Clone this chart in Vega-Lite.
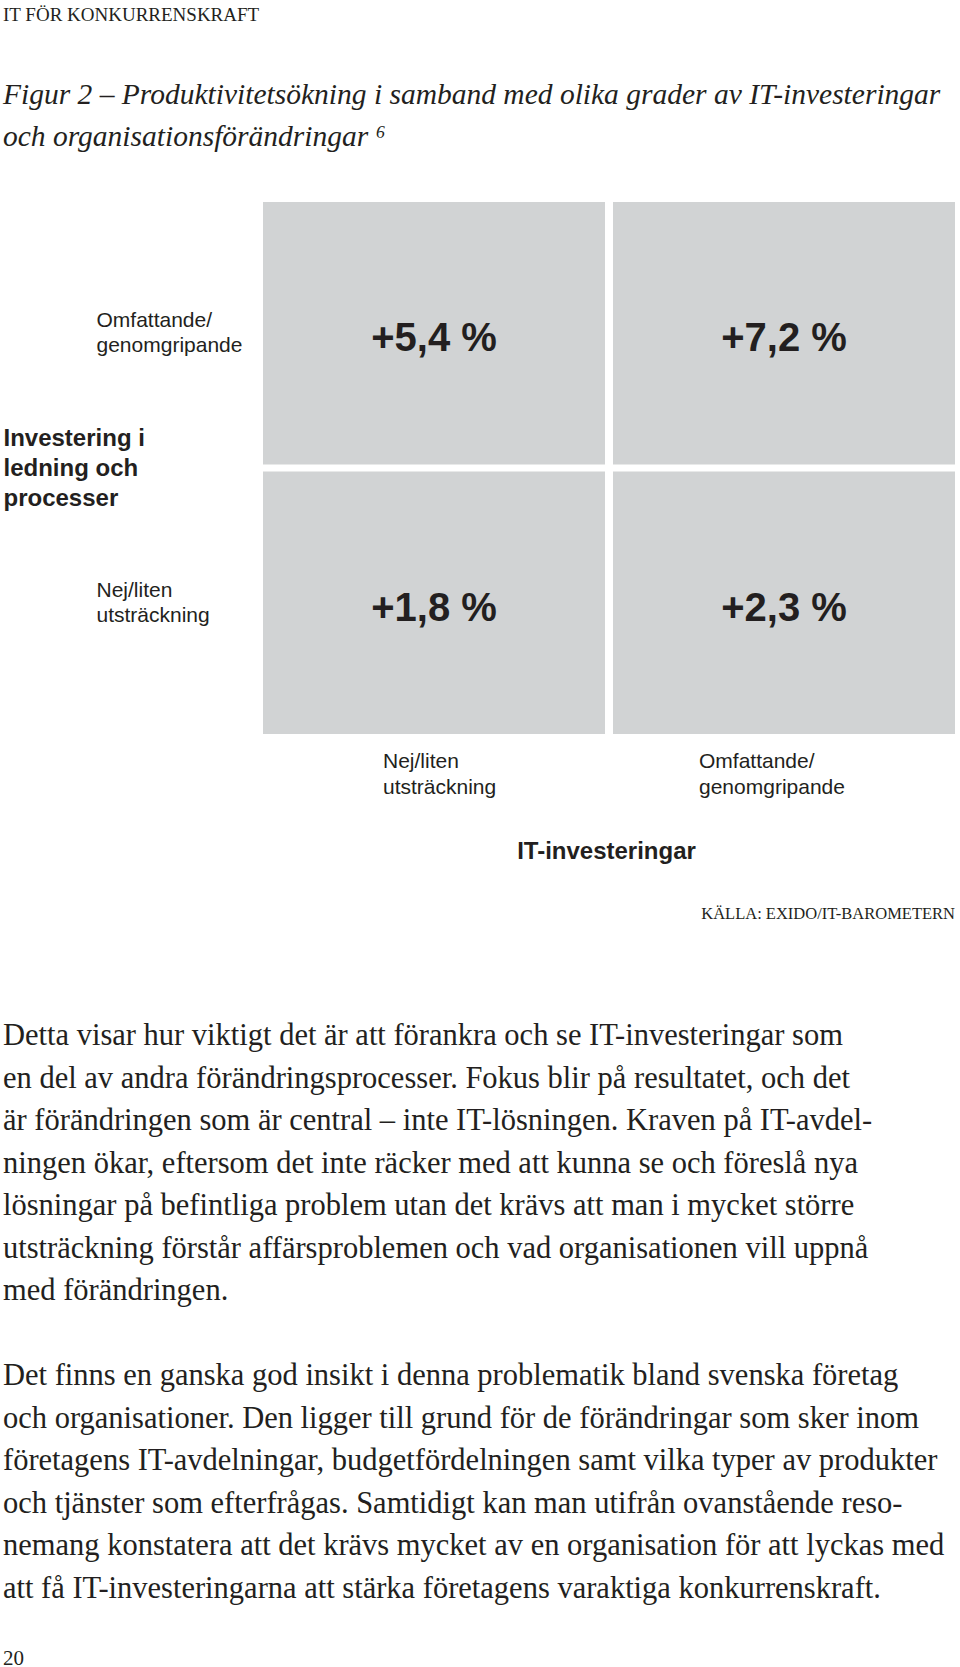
{
  "$schema": "https://vega.github.io/schema/vega-lite/v6.json",
  "background": "white",
  "padding": {"left": 3, "top": 5, "right": 0, "bottom": 0},
  "title": {
    "text": "IT FÖR KONKURRENSKRAFT",
    "subtitle": ["Figur 2 – Produktivitetsökning i samband med olika grader av IT-investeringar", "och organisationsförändringar ⁶"],
    "anchor": "start",
    "frame": "bounds",
    "font": "Liberation Serif",
    "fontSize": 19,
    "fontWeight": "normal",
    "color": "#231f20",
    "subtitleFont": "Liberation Serif",
    "subtitleFontStyle": "italic",
    "subtitleFontSize": 29.5,
    "subtitleColor": "#231f20",
    "subtitleLineHeight": 42,
    "subtitlePadding": 56,
    "offset": 51
  },
  "concat": [
    {
      "width": 952,
      "height": 532,
      "data": {"values": [
        {"it": "Nej/liten utsträckning", "org": "Omfattande/genomgripande", "okning": 5.4, "etikett": "+5,4 %"},
        {"it": "Omfattande/genomgripande", "org": "Omfattande/genomgripande", "okning": 7.2, "etikett": "+7,2 %"},
        {"it": "Nej/liten utsträckning", "org": "Nej/liten utsträckning", "okning": 1.8, "etikett": "+1,8 %"},
        {"it": "Omfattande/genomgripande", "org": "Nej/liten utsträckning", "okning": 2.3, "etikett": "+2,3 %"}
      ]},
      "encoding": {
        "x": {
          "field": "it", "type": "nominal",
          "sort": ["Nej/liten utsträckning", "Omfattande/genomgripande"],
          "scale": {"paddingInner": 0.022857, "paddingOuter": 0.371429, "align": 1},
          "axis": {
            "title": "IT-investeringar",
            "orient": "bottom",
            "domain": false, "ticks": false, "tickSize": 0,
            "labelAngle": 0, "labelAlign": "left", "labelBaseline": "top",
            "labelPadding": 16,
            "labelOffset": {"condition": {"test": "datum.value === 'Nej/liten utsträckning'", "value": -51}, "value": -85},
            "labelExpr": "datum.value === 'Nej/liten utsträckning' ? ['Nej/liten', 'utsträckning'] : ['Omfattande/', 'genomgripande']",
            "labelFont": "Liberation Sans", "labelFontSize": 21, "labelLineHeight": 26,
            "labelColor": "#231f20", "labelLimit": 300,
            "titleFont": "Liberation Sans", "titleFontSize": 24, "titleFontWeight": "bold",
            "titleColor": "#231f20", "titleX": 603, "titleY": 117, "titleBaseline": "middle"
          }
        },
        "y": {
          "field": "org", "type": "nominal",
          "sort": ["Omfattande/genomgripande", "Nej/liten utsträckning"],
          "scale": {"paddingInner": 0.026, "paddingOuter": 0},
          "axis": {
            "title": ["Investering i", "ledning och", "processer"],
            "domain": false, "ticks": false, "tickSize": 0,
            "labelAlign": "left", "labelBaseline": "middle",
            "labelPadding": -93,
            "labelOffset": -12,
            "labelExpr": "datum.value === 'Nej/liten utsträckning' ? ['Nej/liten', 'utsträckning'] : ['Omfattande/', 'genomgripande']",
            "labelFont": "Liberation Sans", "labelFontSize": 21, "labelLineHeight": 25,
            "labelColor": "#231f20", "labelLimit": 300,
            "titleAngle": 0, "titleAlign": "left", "titleBaseline": "middle",
            "titleX": 0, "titleY": 236,
            "titleFont": "Liberation Sans", "titleFontSize": 24, "titleFontWeight": "bold",
            "titleLineHeight": 30, "titleColor": "#231f20"
          }
        }
      },
      "layer": [
        {"mark": {"type": "rect", "color": "#d1d3d4"}},
        {
          "mark": {"type": "text", "font": "Liberation Sans", "fontWeight": "bold", "fontSize": 40, "color": "#231f20", "dy": 6},
          "encoding": {"text": {"field": "etikett"}}
        }
      ]
    },
    {
      "width": 952,
      "height": 659,
      "title": {
        "text": "KÄLLA: EXIDO/IT-BAROMETERN",
        "anchor": "end", "frame": "group",
        "font": "Liberation Serif", "fontSize": 16.5, "fontWeight": "normal",
        "color": "#231f20", "offset": 93
      },
      "data": {"values": [
        {"rad": 1, "typ": "brödtext", "tekst": "Detta visar hur viktigt det är att förankra och se IT-investeringar som"},
        {"rad": 2, "typ": "brödtext", "tekst": "en del av andra förändringsprocesser. Fokus blir på resultatet, och det"},
        {"rad": 3, "typ": "brödtext", "tekst": "är förändringen som är central – inte IT-lösningen. Kraven på IT-avdel-"},
        {"rad": 4, "typ": "brödtext", "tekst": "ningen ökar, eftersom det inte räcker med att kunna se och föreslå nya"},
        {"rad": 5, "typ": "brödtext", "tekst": "lösningar på befintliga problem utan det krävs att man i mycket större"},
        {"rad": 6, "typ": "brödtext", "tekst": "utsträckning förstår affärsproblemen och vad organisationen vill uppnå"},
        {"rad": 7, "typ": "brödtext", "tekst": "med förändringen."},
        {"rad": 9, "typ": "brödtext", "tekst": "Det finns en ganska god insikt i denna problematik bland svenska företag"},
        {"rad": 10, "typ": "brödtext", "tekst": "och organisationer. Den ligger till grund för de förändringar som sker inom"},
        {"rad": 11, "typ": "brödtext", "tekst": "företagens IT-avdelningar, budgetfördelningen samt vilka typer av produkter"},
        {"rad": 12, "typ": "brödtext", "tekst": "och tjänster som efterfrågas. Samtidigt kan man utifrån ovanstående reso-"},
        {"rad": 13, "typ": "brödtext", "tekst": "nemang konstatera att det krävs mycket av en organisation för att lyckas med"},
        {"rad": 14, "typ": "brödtext", "tekst": "att få IT-investeringarna att stärka företagens varaktiga konkurrenskraft."},
        {"rad": 15.64, "typ": "sidnummer", "tekst": "20"}
      ]},
      "encoding": {
        "y": {"field": "rad", "type": "quantitative", "scale": {"domain": [0.5, 16], "reverse": true}, "axis": null},
        "x": {"value": 0},
        "text": {"field": "tekst"}
      },
      "layer": [
        {
          "transform": [{"filter": "datum.typ === 'brödtext'"}],
          "mark": {"type": "text", "align": "left", "baseline": "middle", "font": "Liberation Serif", "fontSize": 30.5, "color": "#231f20"}
        },
        {
          "transform": [{"filter": "datum.typ === 'sidnummer'"}],
          "mark": {"type": "text", "align": "left", "baseline": "middle", "font": "Liberation Serif", "fontSize": 21, "color": "#231f20"}
        }
      ]
    }
  ],
  "columns": 1,
  "align": "none",
  "bounds": "full",
  "spacing": 42,
  "config": {"view": {"stroke": null}}
}
